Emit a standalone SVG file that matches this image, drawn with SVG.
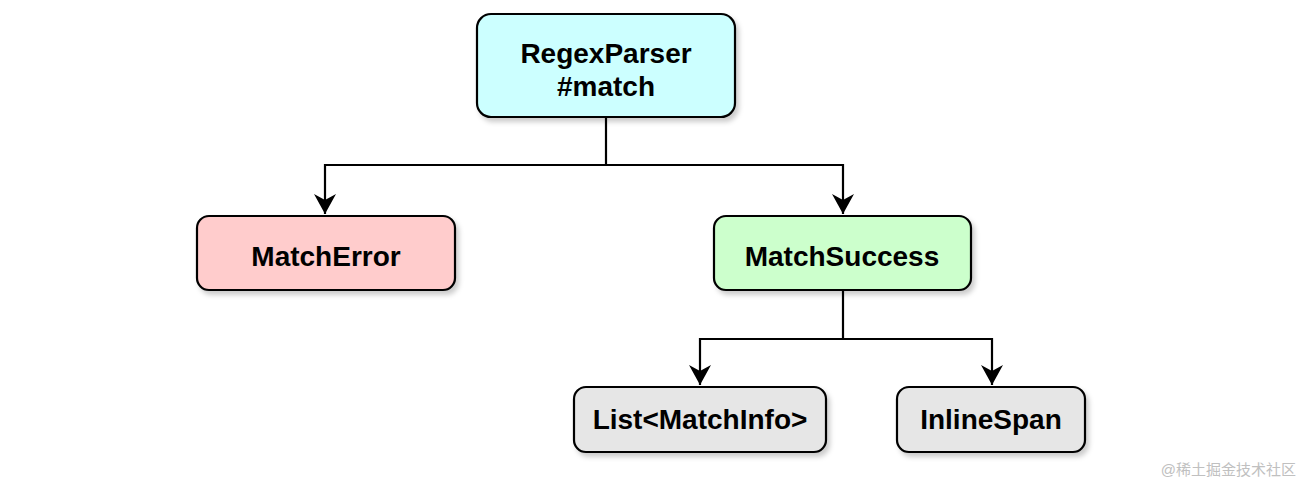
<svg xmlns="http://www.w3.org/2000/svg" width="1302" height="490" viewBox="0 0 1302 490">
<style>
.box{stroke:#000;stroke-width:2.2;filter:url(#sh)}
.lbl{font-family:"Liberation Sans",Arial,sans-serif;font-weight:bold;font-size:28px;fill:#000;text-anchor:middle}
.conn{fill:none;stroke:#000;stroke-width:2.2}
.wm{font-family:"Liberation Sans","Noto Sans CJK SC",sans-serif;font-size:15px;fill:#c0c0c0;text-anchor:end}
</style>
<defs>
<filter id="sh" x="-10%" y="-20%" width="130%" height="150%">
<feDropShadow dx="3" dy="4" stdDeviation="2.5" flood-color="#000" flood-opacity="0.2"/>
</filter>
<marker id="arr" markerWidth="22" markerHeight="22" viewBox="0 0 22 22" refX="20" refY="11" orient="auto" markerUnits="userSpaceOnUse">
<path d="M0,0 L20,11 L0,22 L6,11 Z" fill="#000"/>
</marker>
</defs>
<rect width="1302" height="490" fill="#fff"/>
<g id="connectors">
<path class="conn" d="M606,118 V165 H325 V214" marker-end="url(#arr)"/>
<path class="conn" d="M606,165 H843 V214" marker-end="url(#arr)"/>
<path class="conn" d="M843,291 V339 H700 V385" marker-end="url(#arr)"/>
<path class="conn" d="M843,339 H992 V385" marker-end="url(#arr)"/>
</g>
<g id="regexparser">
<rect class="box" x="477" y="14" width="258" height="103" rx="14" fill="#ccffff"/>
<text class="lbl" x="606" y="63">RegexParser</text>
<text class="lbl" x="606" y="96">#match</text>
</g>
<g id="matcherror">
<rect class="box" x="197" y="216" width="258" height="74" rx="12" fill="#ffcccc"/>
<text class="lbl" x="326" y="266">MatchError</text>
</g>
<g id="matchsuccess">
<rect class="box" x="714" y="216" width="257" height="74" rx="12" fill="#ccffcc"/>
<text class="lbl" x="842" y="266">MatchSuccess</text>
</g>
<g id="listmatchinfo">
<rect class="box" x="574" y="387" width="252" height="65" rx="12" fill="#e6e6e6"/>
<text class="lbl" x="700" y="429">List&lt;MatchInfo&gt;</text>
</g>
<g id="inlinespan">
<rect class="box" x="897" y="387" width="188" height="65" rx="12" fill="#e6e6e6"/>
<text class="lbl" x="991" y="429">InlineSpan</text>
</g>
<text class="wm" x="1296" y="475">@稀土掘金技术社区</text>
</svg>
